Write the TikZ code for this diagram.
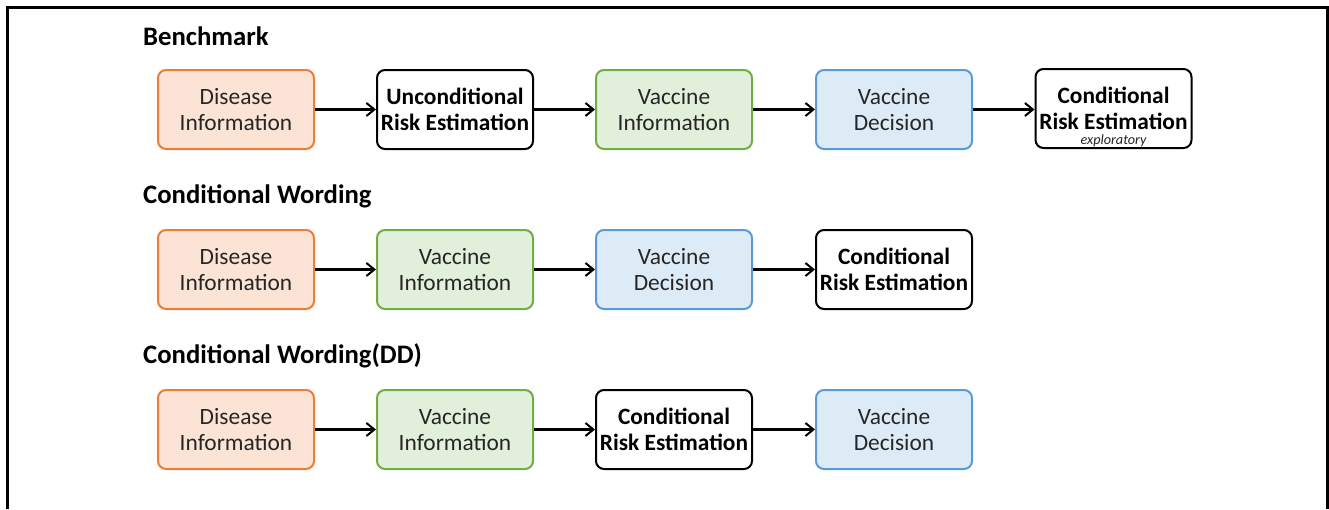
\documentclass[tikz,border=0pt]{standalone}
\usepackage{fontspec}
\setmainfont{Carlito}
\usetikzlibrary{arrows.meta}
\definecolor{orfill}{HTML}{FBE3D6}
\definecolor{ordraw}{HTML}{EE7D35}
\definecolor{grfill}{HTML}{E2EFDA}
\definecolor{grdraw}{HTML}{70AD47}
\definecolor{blfill}{HTML}{DDEBF7}
\definecolor{bldraw}{HTML}{5B9BD5}
\definecolor{txt}{HTML}{262626}
\tikzset{
  box/.style={draw, line width=2pt, rounded corners=8pt, minimum width=156pt, minimum height=79pt,
    align=center, inner sep=0pt, text=txt, font=\fontsize{23.4}{26}\selectfont},
  dis/.style={box, draw=ordraw, fill=orfill},
  vinf/.style={box, draw=grdraw, fill=grfill},
  vdec/.style={box, draw=bldraw, fill=blfill},
  risk/.style={box, draw=black, fill=white, font=\fontsize{23.4}{26}\selectfont\bfseries, text=black},
  arr/.style={-{Straight Barb[length=8pt,width=13pt,line width=2pt]}, line width=2.4pt},
  title/.style={anchor=west, font=\fontsize{26.7}{29}\selectfont\bfseries, inner sep=0pt}
}
\begin{document}
\begin{tikzpicture}[x=1pt,y=-1pt]
\useasboundingbox (0,0) rectangle (1329,509);
\draw[line width=3pt] (7,509) -- (7,7) -- (1327,7) -- (1327,509);
% Row 1
\node[title] (t1) at (143,36) {Benchmark};
\node[dis] (a1) at (236,109.5) {Disease\\Information};
\node[risk] (a2) at (455,109.5) {Unconditional\\Risk Estimation};
\node[vinf] (a3) at (674,109.5) {Vaccine\\Information};
\node[vdec] (a4) at (894,109.5) {Vaccine\\Decision};
\node[risk] (a5) at (1113.5,108.5) {Conditional\\Risk Estimation};
\node[font=\fontsize{14.2}{16}\selectfont\itshape, text=txt, inner sep=0pt] (ex) at (1113.5,141) {exploratory};
\draw[arr] (a1) -- (a2);
\draw[arr] (a2) -- (a3);
\draw[arr] (a3) -- (a4);
\draw[arr] (a4) -- (a5.west |- a4.east);
% Row 2
\node[title] (t2) at (143,196) {Conditional Wording};
\node[dis] (b1) at (236,269.5) {Disease\\Information};
\node[vinf] (b2) at (455,269.5) {Vaccine\\Information};
\node[vdec] (b3) at (674,269.5) {Vaccine\\Decision};
\node[risk] (b4) at (894,269.5) {Conditional\\Risk Estimation};
\draw[arr] (b1) -- (b2);
\draw[arr] (b2) -- (b3);
\draw[arr] (b3) -- (b4);
% Row 3
\node[title] (t3) at (143,356) {Conditional Wording(DD)};
\node[dis] (c1) at (236,429.5) {Disease\\Information};
\node[vinf] (c2) at (455,429.5) {Vaccine\\Information};
\node[risk] (c3) at (674,429.5) {Conditional\\Risk Estimation};
\node[vdec] (c4) at (894,429.5) {Vaccine\\Decision};
\draw[arr] (c1) -- (c2);
\draw[arr] (c2) -- (c3);
\draw[arr] (c3) -- (c4);
\end{tikzpicture}
\end{document}
